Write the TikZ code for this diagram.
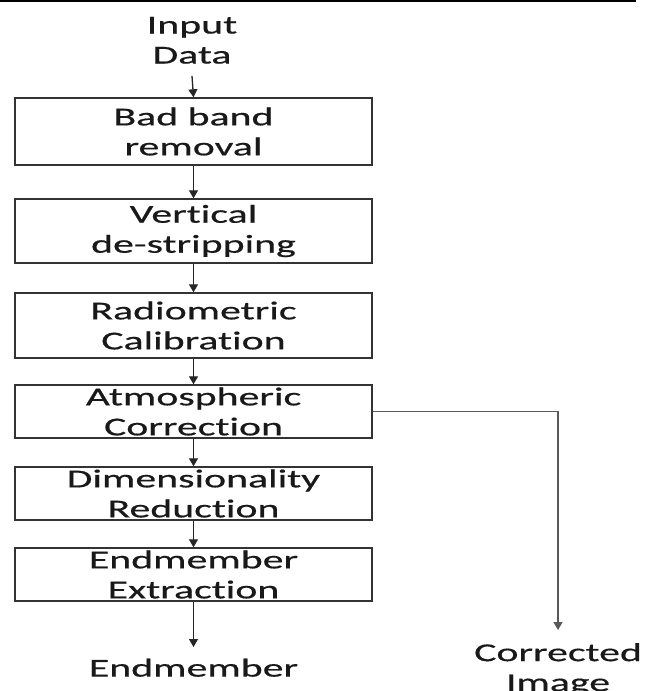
\documentclass[tikz,border=0pt]{standalone}
\usepackage{fontspec}
\setmainfont{Carlito}[FakeStretch=1.62, FakeBold=0.5, Ligatures=NoCommon]
\usetikzlibrary{arrows.meta}
\begin{document}
\begin{tikzpicture}[x=1pt,y=-1pt,
  txt/.style={font=\fontsize{25.8}{30}\selectfont, align=center, inner sep=0pt, text=black!90},
  procbox/.style={txt, draw=black!80, line width=1.4pt, minimum width=357pt},
  conn/.style={draw=black!85, line width=1.3pt, -{Triangle[width=9pt,length=8pt]}},
  sideconn/.style={draw=black!65, line width=1.6pt, -{Triangle[width=9pt,length=8pt]}}]
\useasboundingbox (0,0) rectangle (646,691);
\fill[white] (0,0) rectangle (646,691);
\coordinate (tl) at (0,0.8);
\coordinate (tr) at (636,0.8);
\draw[line width=1.6pt, black] (tl) -- (tr);

\node[txt, anchor=north] (in) at (192,16.8) {Input\\Data};
\node[procbox, minimum height=67pt] (b1) at (193.5,131.5) {Bad band\\removal};
\node[procbox, minimum height=64pt] (b2) at (193.5,231) {Vertical\\de-stripping};
\node[procbox, minimum height=65pt] (b3) at (193.5,325.5) {Radiometric\\Calibration};
\node[procbox, minimum height=53pt] (b4) at (193.5,411.5) {Atmospheric\\Correction};
\node[procbox, minimum height=53pt] (b5) at (193.5,493.5) {Dimensionality\\Reduction};
\node[procbox, minimum height=53pt] (b6) at (193.5,574.5) {Endmember\\Extraction};
\node[txt, anchor=north] (em) at (193.5,658.5) {Endmember};
\node[txt, anchor=north] (ci) at (558,643) {Corrected\\Image};
\coordinate (bend) at (558,411.5);

\draw[conn] ([yshift=-12pt]in.south) -- (b1.north);
\draw[conn] (b1.south) -- (b2.north);
\draw[conn] (b2.south) -- (b3.north);
\draw[conn] (b3.south) -- (b4.north);
\draw[conn] (b4.south) -- (b5.north);
\draw[conn] (b5.south) -- (b6.north);
\draw[conn] (b6.south) -- ([yshift=11.5pt]em.north);
\draw[sideconn] (b4.east) -- (bend) -- ([yshift=13pt]ci.north);
\end{tikzpicture}
\end{document}
